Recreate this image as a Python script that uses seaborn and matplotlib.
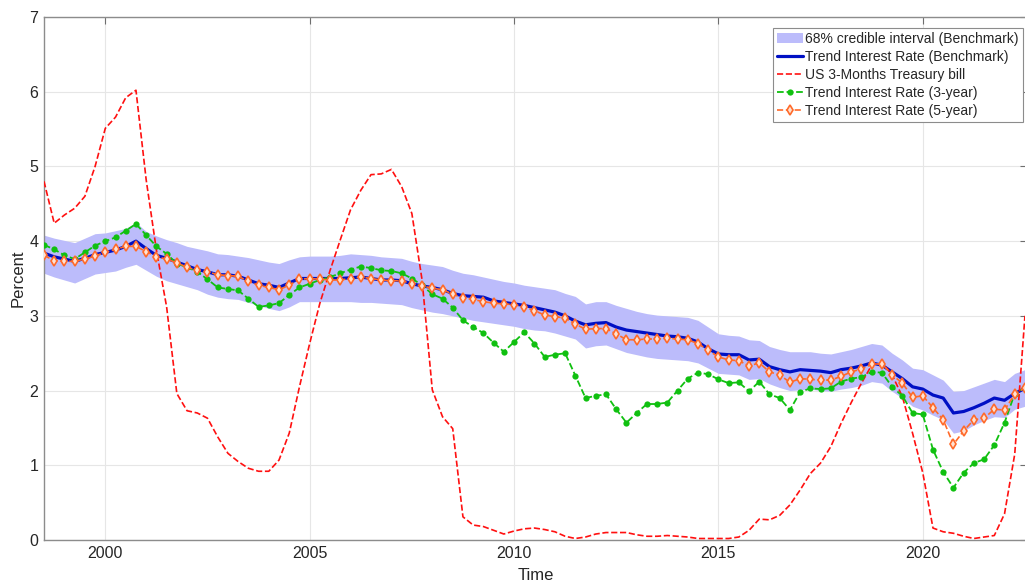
import numpy as np
import pandas as pd
import matplotlib
matplotlib.use('Agg')
import matplotlib.pyplot as plt
import seaborn as sns

# quarterly observations, 1998Q3 .. 2022Q3
start_year = 1998.5
n_quarters = 97

trend_bench = [
    3.84, 3.79, 3.76, 3.73, 3.77, 3.82, 3.85, 3.88,
    3.93, 4.00, 3.90, 3.81, 3.77, 3.72, 3.67, 3.62,
    3.59, 3.55, 3.55, 3.53, 3.48, 3.43, 3.41, 3.38,
    3.44, 3.50, 3.50, 3.50, 3.50, 3.50, 3.51, 3.52,
    3.50, 3.48, 3.48, 3.47, 3.43, 3.40, 3.38, 3.35,
    3.30, 3.27, 3.26, 3.25, 3.20, 3.18, 3.16, 3.14,
    3.11, 3.08, 3.05, 3.00, 2.93, 2.88, 2.90, 2.91,
    2.85, 2.81, 2.79, 2.77, 2.75, 2.73, 2.72, 2.70,
    2.65, 2.56, 2.49, 2.48, 2.48, 2.41, 2.42, 2.32,
    2.28, 2.25, 2.28, 2.27, 2.26, 2.24, 2.28, 2.30,
    2.33, 2.37, 2.34, 2.25, 2.16, 2.05, 2.02, 1.94,
    1.90, 1.70, 1.72, 1.77, 1.83, 1.90, 1.87, 1.96,
    2.03,
]

band_upper = [
    4.08, 4.04, 4.01, 3.98, 4.04, 4.10, 4.11, 4.14,
    4.17, 4.25, 4.13, 4.07, 4.02, 3.98, 3.93, 3.90,
    3.87, 3.83, 3.82, 3.80, 3.78, 3.75, 3.72, 3.70,
    3.75, 3.79, 3.80, 3.80, 3.80, 3.81, 3.83, 3.82,
    3.81, 3.79, 3.78, 3.77, 3.73, 3.70, 3.68, 3.66,
    3.61, 3.57, 3.55, 3.52, 3.49, 3.46, 3.44, 3.41,
    3.39, 3.37, 3.35, 3.30, 3.26, 3.16, 3.19, 3.19,
    3.14, 3.10, 3.06, 3.03, 3.01, 3.00, 2.99, 2.98,
    2.94, 2.85, 2.76, 2.74, 2.73, 2.68, 2.67, 2.59,
    2.55, 2.52, 2.52, 2.52, 2.50, 2.49, 2.52, 2.55,
    2.59, 2.63, 2.61, 2.50, 2.41, 2.30, 2.28, 2.21,
    2.14, 1.99, 2.00, 2.05, 2.10, 2.15, 2.12, 2.23,
    2.28,
]

band_lower = [
    3.57, 3.52, 3.48, 3.44, 3.50, 3.56, 3.58, 3.60,
    3.65, 3.69, 3.61, 3.53, 3.47, 3.43, 3.39, 3.35,
    3.29, 3.25, 3.23, 3.22, 3.18, 3.14, 3.10, 3.07,
    3.12, 3.19, 3.19, 3.19, 3.19, 3.19, 3.19, 3.18,
    3.18, 3.17, 3.16, 3.15, 3.11, 3.08, 3.05, 3.03,
    3.00, 2.97, 2.94, 2.92, 2.90, 2.88, 2.86, 2.83,
    2.81, 2.80, 2.77, 2.73, 2.69, 2.57, 2.60, 2.61,
    2.56, 2.51, 2.48, 2.45, 2.43, 2.42, 2.41, 2.40,
    2.37, 2.30, 2.23, 2.22, 2.21, 2.15, 2.16, 2.09,
    2.04, 2.00, 2.01, 2.02, 2.00, 1.99, 2.02, 2.04,
    2.07, 2.12, 2.10, 1.99, 1.90, 1.79, 1.74, 1.67,
    1.61, 1.43, 1.46, 1.54, 1.60, 1.65, 1.64, 1.75,
    1.79,
]

tbill_3m = [
    4.80, 4.24, 4.35, 4.44, 4.60, 5.00, 5.51, 5.66,
    5.92, 6.02, 4.82, 3.88, 3.12, 1.96, 1.73, 1.70,
    1.63, 1.38, 1.16, 1.05, 0.96, 0.92, 0.92, 1.07,
    1.43, 2.05, 2.63, 3.17, 3.61, 4.02, 4.42, 4.68,
    4.89, 4.90, 4.96, 4.73, 4.37, 3.48, 2.01, 1.65,
    1.49, 0.31, 0.20, 0.18, 0.13, 0.08, 0.12, 0.15,
    0.16, 0.14, 0.11, 0.05, 0.02, 0.04, 0.08, 0.10,
    0.10, 0.10, 0.07, 0.05, 0.05, 0.06, 0.05, 0.04,
    0.02, 0.02, 0.02, 0.02, 0.04, 0.13, 0.28, 0.27,
    0.33, 0.47, 0.67, 0.89, 1.03, 1.25, 1.56, 1.84,
    2.10, 2.34, 2.38, 2.21, 1.92, 1.43, 0.90, 0.16,
    0.11, 0.09, 0.05, 0.02, 0.04, 0.06, 0.35, 1.15,
    3.00,
]

trend_3y = [
    3.95, 3.89, 3.81, 3.76, 3.85, 3.94, 4.00, 4.05,
    4.14, 4.23, 4.08, 3.93, 3.83, 3.70, 3.65, 3.59,
    3.49, 3.38, 3.36, 3.34, 3.23, 3.12, 3.14, 3.17,
    3.28, 3.38, 3.43, 3.48, 3.52, 3.57, 3.62, 3.66,
    3.64, 3.61, 3.60, 3.57, 3.50, 3.41, 3.29, 3.23,
    3.11, 2.94, 2.85, 2.77, 2.64, 2.52, 2.65, 2.78,
    2.63, 2.45, 2.48, 2.50, 2.20, 1.90, 1.93, 1.95,
    1.75, 1.57, 1.70, 1.82, 1.82, 1.84, 2.00, 2.16,
    2.24, 2.22, 2.15, 2.10, 2.11, 1.99, 2.12, 1.95,
    1.90, 1.74, 1.98, 2.03, 2.02, 2.03, 2.12, 2.16,
    2.18, 2.25, 2.24, 2.05, 1.93, 1.70, 1.68, 1.21,
    0.91, 0.70, 0.90, 1.03, 1.08, 1.27, 1.57, 1.96,
    2.04,
]

trend_5y = [
    3.81, 3.74, 3.73, 3.73, 3.76, 3.80, 3.85, 3.89,
    3.93, 3.93, 3.86, 3.79, 3.76, 3.71, 3.65, 3.61,
    3.59, 3.55, 3.54, 3.53, 3.46, 3.41, 3.38, 3.35,
    3.41, 3.49, 3.50, 3.49, 3.48, 3.48, 3.50, 3.52,
    3.50, 3.48, 3.47, 3.47, 3.43, 3.40, 3.37, 3.35,
    3.29, 3.24, 3.22, 3.19, 3.17, 3.16, 3.15, 3.12,
    3.07, 3.01, 2.99, 2.97, 2.89, 2.82, 2.83, 2.83,
    2.76, 2.68, 2.68, 2.69, 2.69, 2.70, 2.69, 2.68,
    2.63, 2.54, 2.45, 2.41, 2.40, 2.33, 2.37, 2.25,
    2.21, 2.11, 2.16, 2.15, 2.14, 2.14, 2.19, 2.25,
    2.29, 2.35, 2.36, 2.21, 2.10, 1.91, 1.93, 1.77,
    1.61, 1.28, 1.46, 1.61, 1.63, 1.75, 1.74, 1.95,
    2.04,
]

time = start_year + 0.25 * np.arange(n_quarters)

df = pd.DataFrame({
    'Time': time,
    'bench': trend_bench,
    'upper': band_upper,
    'lower': band_lower,
    'tbill': tbill_3m,
    'y3': trend_3y,
    'y5': trend_5y,
})

sns.set_style('white')
plt.rcParams['font.family'] = ['Liberation Sans', 'DejaVu Sans']

fig = plt.figure(figsize=(10.25, 5.83), dpi=100)
ax = fig.add_axes([44 / 1025, 43 / 583, 983 / 1025, 523 / 583])

ax.fill_between(df['Time'], df['lower'], df['upper'], color='#bcbcfb',
                linewidth=0, label='68% credible interval (Benchmark)', zorder=1)
sns.lineplot(data=df, x='Time', y='bench', ax=ax, color='#0010c4', linewidth=2.3,
             label='Trend Interest Rate (Benchmark)', zorder=2)
sns.lineplot(data=df, x='Time', y='tbill', ax=ax, color='#ff1010', linewidth=1.2,
             linestyle='--', label='US 3-Months Treasury bill', zorder=3)
sns.lineplot(data=df, x='Time', y='y3', ax=ax, color='#10c010', linewidth=1.3,
             linestyle='--', marker='o', markersize=4.5, markeredgewidth=0,
             label='Trend Interest Rate (3-year)', zorder=4)
sns.lineplot(data=df, x='Time', y='y5', ax=ax, color='#ff6a2a', linewidth=1.2,
             linestyle='--', marker='d', markersize=5, markerfacecolor='#ffe2d2',
             markeredgecolor='#ff6a2a', markeredgewidth=1.2,
             label='Trend Interest Rate (5-year)', zorder=5)

ax.set_xlim(1998.5, 2022.55)
ax.set_ylim(0, 7)
ax.set_xticks([2000, 2005, 2010, 2015, 2020])
ax.set_yticks(range(0, 8))
ax.grid(True, color='#e6e6e6', linewidth=0.8)
ax.set_axisbelow(True)

for side in ['left', 'bottom', 'top', 'right']:
    ax.spines[side].set_color('#8c8c8c')
    ax.spines[side].set_linewidth(1.0)
ax.tick_params(direction='in', top=True, right=True, length=5, width=0.8,
               color='#6e6e6e', labelcolor='#262626', labelsize=11.5, pad=4)

ax.set_xlabel('Time', fontsize=12, color='#262626', labelpad=5)
ax.set_ylabel('Percent', fontsize=12, color='#262626', labelpad=3)

handles, labels = ax.get_legend_handles_labels()
order = [labels.index(l) for l in ['68% credible interval (Benchmark)',
                                   'Trend Interest Rate (Benchmark)',
                                   'US 3-Months Treasury bill',
                                   'Trend Interest Rate (3-year)',
                                   'Trend Interest Rate (5-year)']]
leg = ax.legend([handles[k] for k in order], [labels[k] for k in order],
                loc='upper right', bbox_to_anchor=(0.996, 0.979), fontsize=10,
                frameon=True, fancybox=False, framealpha=1, edgecolor='#8c8c8c',
                handlelength=1.9, handletextpad=0.15, labelspacing=0.28,
                borderpad=0.3, borderaxespad=0)
leg.get_frame().set_linewidth(0.8)

fig.savefig('out.png', dpi=100)
